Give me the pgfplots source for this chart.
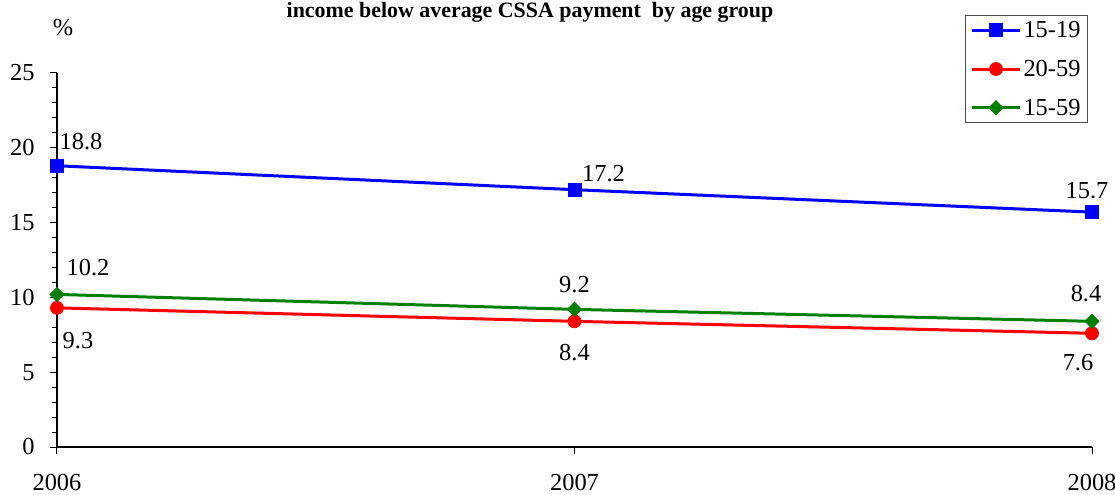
\documentclass[border=0pt]{standalone}
\usepackage{fontspec}
\setmainfont{Liberation Serif}
\usepackage{pgfplots}
\usepackage{pgfplotstable}
\pgfplotsset{compat=1.18}

\pgfplotstableread{
x y dx dy
2006 18.8 24 24
2007 17.2 29 16
2008 15.7 -5 22
}\tblA
\pgfplotstableread{
x y dx dy
2006 9.3 21 -33
2007 8.4 0 -31
2008 7.6 -14 -29
}\tblB
\pgfplotstableread{
x y dx dy
2006 10.2 31 27
2007 9.2 0 25
2008 8.4 -6 28
}\tblC

\begin{document}
\begin{tikzpicture}
\useasboundingbox (-57bp,-48bp) rectangle (1058bp,447bp);
\begin{axis}[
  at={(0,0)}, anchor=south west,
  scale only axis, width=1035bp, height=374bp,
  xmin=2006, xmax=2008, ymin=0, ymax=25,
  axis x line=bottom, axis y line=left,
  axis line style={-, line width=1.2bp},
  xtick={2006,2007,2008}, xticklabels={2006,2007,2008},
  ytick={0,5,...,25}, minor ytick={1,...,24},
  tick align=outside, major tick length=7bp, minor tick length=5bp,
  every tick/.style={black, line width=1bp},
  every minor tick/.style={black, line width=1bp},
  font=\fontsize{24.5}{28}\selectfont,
  tick label style={font=\fontsize{24.5}{28}\selectfont},
  /pgf/number format/assume math mode=true,
  yticklabel style={xshift=-12bp},
  xticklabel style={yshift=-17bp},
  clip=false,
  legend style={at={(0.9961,1.155)}, anchor=north east, draw=black!70, line width=1bp,
    font=\fontsize{24.5}{28}\selectfont, inner xsep=5bp, inner ysep=4bp, row sep=17bp},
  legend cell align=left,
  legend image code/.code={\draw[mark repeat=2,mark phase=2,#1] plot coordinates {(0bp,0bp) (24bp,0bp) (48bp,0bp)};},
  nodes near coords,
  point meta=explicit symbolic,
  visualization depends on={\thisrow{dx} \as \dx},
  visualization depends on={\thisrow{dy} \as \dy},
  nodes near coords style={anchor=center, xshift=\dx bp, yshift=\dy bp, text=black, font=\fontsize{24.5}{28}\selectfont},
]
\addplot[color={rgb,255:red,0;green,0;blue,255}, line width=3bp, mark=square*, mark size=6.5bp, mark options={solid, line width=0.8bp}] table[x=x,y=y,meta=y]{\tblA};
\addlegendentry{15-19}
\addplot[color={rgb,255:red,255;green,0;blue,0}, line width=3bp, mark=*, mark size=6.5bp, mark options={solid, line width=0.8bp}] table[x=x,y=y,meta=y]{\tblB};
\addlegendentry{20-59}
\addplot[color={rgb,255:red,0;green,128;blue,0}, line width=3bp, mark=square*, mark size=5bp, mark options={solid, rotate=45, line width=0.8bp}] table[x=x,y=y,meta=y]{\tblC};
\addlegendentry{15-59}
\node[anchor=base, font=\bfseries\fontsize{22}{24}\selectfont] at (axis description cs:0.457,1.1497) {income below average CSSA payment\ \ by age group};
\node[anchor=base] at (axis description cs:0.0058,1.1016) {\%};
\end{axis}
\end{tikzpicture}
\end{document}
